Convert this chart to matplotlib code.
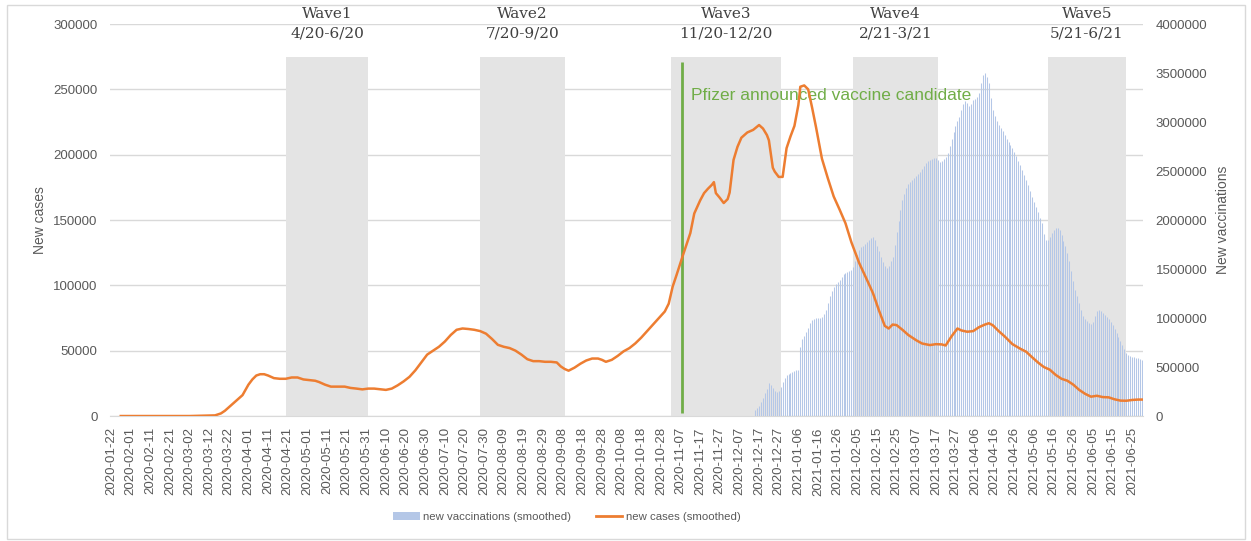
import matplotlib
matplotlib.use('Agg')
import matplotlib.pyplot as plt
import matplotlib.transforms as mtransforms
from matplotlib.patches import Patch, Rectangle
from matplotlib.lines import Line2D
from matplotlib.ticker import StrMethodFormatter
import pandas as pd

# axis range (category dates)
START = pd.Timestamp('2020-01-22')
END = pd.Timestamp('2021-06-30')

# new cases (smoothed): days since START and values in thousands
case_days = [5, 20, 40, 53, 56, 58, 61, 64, 67, 70, 72, 74, 76, 78, 80, 83, 86, 89, 92, 95,
             98, 101, 104, 106, 109, 112, 116, 119, 122, 125, 128, 131, 134, 137, 140, 143, 146, 149, 152, 155,
             158, 161, 164, 167, 170, 173, 176, 179, 182, 185, 188, 191, 194, 197, 200, 203, 206, 209, 212, 215,
             218, 221, 224, 227, 229, 231, 233, 236, 239, 242, 245, 248, 250, 252, 255, 258, 261, 264, 267, 270,
             273, 276, 279, 282, 284, 286, 288, 291, 293, 295, 297, 300, 302, 304, 306, 307, 308, 310, 312, 314,
             315, 317, 319, 321, 324, 327, 330, 332, 334, 335, 337, 338, 340, 342, 344, 346, 348, 350, 351, 353,
             355, 357, 359, 362, 365, 368, 371, 374, 377, 381, 385, 388, 391, 394, 396, 398, 400, 403, 406, 410,
             413, 417, 420, 423, 425, 428, 431, 433, 436, 439, 442, 445, 447, 449, 452, 455, 459, 463, 466, 469,
             472, 475, 478, 481, 484, 487, 490, 493, 496, 499, 502, 505, 508, 511, 514, 517, 520, 523, 525]
case_values = [0, 0, 0, 0.5, 2, 4, 8, 12, 16, 24, 28, 31, 32, 32, 31, 29, 28.5, 28.5, 29.5, 29.5,
               28, 27.5, 27, 26, 24, 22.5, 22.5, 22.5, 21.5, 21, 20.4, 21, 21, 20.5, 20, 21, 23.5, 26.5, 30, 35,
               41, 47, 50, 53, 57, 62, 66, 67, 66.6, 66, 65, 63, 59, 54.5, 53, 52, 50, 47, 43.5, 42,
               42, 41.5, 41.5, 41, 38, 36, 34.7, 37, 40, 42.5, 44, 44, 43, 41.5, 43, 46, 49.5, 52, 55.6, 60,
               65, 70, 75, 80, 86, 99, 108, 122, 131, 140, 155, 165, 170.6, 174, 177, 179, 170.6, 167, 163, 166,
               171, 196, 206, 213, 217, 219, 222.7, 220, 215, 211, 190, 187, 183, 183, 205, 214, 222, 238, 252, 253,
               250, 236, 221, 197, 182, 168, 158, 147.5, 133, 117, 104, 94, 81, 69, 67, 70, 69.6, 66, 62, 58,
               55.5, 54.3, 55, 54.8, 54, 61, 67, 65.5, 64.5, 65, 68, 70, 71, 69.5, 65, 61, 55, 51.5, 49.2, 45,
               41, 37.5, 35.5, 31.5, 28.5, 27, 24, 20, 17, 14.8, 15.5, 14.5, 14.3, 12.8, 11.8, 11.7, 12.3, 12.6, 12.6]

# new vaccinations (smoothed): daily from 2020-12-15, in thousands
vacc_first_day = '2020-12-15'
vacc_values = [60, 80, 100, 140, 180, 230, 280, 340, 320, 290, 260, 250, 260, 300, 350, 390,
               420, 430, 440, 450, 460, 470, 470, 700, 790, 820, 860, 900, 950, 980, 990, 1000,
               1000, 1000, 1010, 1040, 1080, 1150, 1220, 1280, 1320, 1350, 1370, 1390, 1420, 1450, 1460, 1470,
               1480, 1490, 1520, 1580, 1640, 1690, 1720, 1740, 1760, 1780, 1800, 1820, 1830, 1800, 1740, 1680,
               1620, 1570, 1530, 1510, 1530, 1580, 1620, 1750, 1880, 1990, 2100, 2200, 2270, 2330, 2370, 2390,
               2410, 2430, 2450, 2470, 2490, 2520, 2550, 2580, 2600, 2610, 2620, 2630, 2630, 2610, 2590, 2600,
               2620, 2640, 2680, 2760, 2830, 2900, 2960, 3010, 3050, 3120, 3180, 3210, 3190, 3160, 3180, 3220,
               3240, 3260, 3300, 3400, 3480, 3500, 3460, 3400, 3250, 3120, 3060, 3010, 2970, 2940, 2910, 2870,
               2830, 2800, 2770, 2730, 2690, 2650, 2600, 2560, 2510, 2460, 2410, 2360, 2300, 2240, 2180, 2130,
               2080, 2020, 1970, 1860, 1800, 1800, 1830, 1870, 1900, 1920, 1920, 1900, 1850, 1790, 1730, 1660,
               1580, 1480, 1380, 1290, 1220, 1150, 1080, 1020, 990, 970, 950, 940, 960, 1020, 1070, 1080,
               1070, 1050, 1030, 1010, 990, 960, 930, 890, 850, 810, 770, 720, 680, 640, 620, 610,
               600, 600, 595, 590, 585, 575]

# waves (shaded columns)
wave_names = ['Wave1', 'Wave2', 'Wave3', 'Wave4', 'Wave5']
wave_periods = ['4/20-6/20', '7/20-9/20', '11/20-12/20', '2/21-3/21', '5/21-6/21']
wave_starts = ['2020-04-20', '2020-07-28', '2020-11-02', '2021-02-03', '2021-05-13']
wave_ends = ['2020-06-01', '2020-09-09', '2020-12-28', '2021-03-18', '2021-06-22']
wave_height = 275000

pfizer_date = '2020-11-08'
pfizer_label = 'Pfizer announced vaccine candidate'

GREY = '#595959'
ORANGE = '#ED7D31'
BLUE = '#B4C7E7'
GREEN = '#70AD47'

cases = pd.Series([v * 1000 for v in case_values],
                  index=START + pd.to_timedelta(case_days, unit='D'))
vacc = pd.Series([v * 1000 for v in vacc_values],
                 index=pd.date_range(vacc_first_day, periods=len(vacc_values), freq='D'))

fig = plt.figure(figsize=(12.51, 5.41), dpi=100)
fig.subplots_adjust(left=0.0879, right=0.9137, bottom=0.231, top=0.9556)
ax = fig.add_subplot(111)
ax2 = ax.twinx()

ax.set_ylim(0, 300000)
ax2.set_ylim(0, 4000000)
ax.set_xlim(START - pd.Timedelta(hours=12), END + pd.Timedelta(hours=12))

# grid + wave columns on the left axis (bottom layer)
ax.set_axisbelow(True)
ax.yaxis.grid(True, color='#D9D9D9', lw=1.0)
for s, e in zip(wave_starts, wave_ends):
    ax.axvspan(pd.Timestamp(s), pd.Timestamp(e), ymin=0, ymax=wave_height / 300000,
               color='#E4E4E4', lw=0, zorder=1)

blend = mtransforms.blended_transform_factory(ax.transData, ax.transAxes)
for name, per, s, e in zip(wave_names, wave_periods, wave_starts, wave_ends):
    mid = pd.Timestamp(s) + (pd.Timestamp(e) - pd.Timestamp(s)) / 2
    ax.text(mid, 1.0, name + '\n' + per, transform=blend, ha='center', va='center',
            family='DejaVu Serif', fontsize=11, color='#404040', linespacing=1.5)

# vaccinations on the right axis, thin daily columns
ax2.vlines(vacc.index, 0, vacc.values, color=BLUE, lw=0.75, zorder=2)

# pfizer marker and cases line drawn above the bars (left-axis units)
ax2.vlines(pd.Timestamp(pfizer_date), 2500, 271000, color=GREEN, lw=2,
           transform=ax.transData, zorder=3)
ax2.text(pd.Timestamp(pfizer_date) + pd.Timedelta(days=4.5), 245000, pfizer_label,
         transform=ax.transData, color=GREEN, fontsize=12.5, family='Liberation Sans',
         va='center', ha='left', zorder=3)
ax2.plot(cases.index, cases.values, color=ORANGE, lw=1.8, transform=ax.transData, zorder=4)

# axes styling
ax.set_yticks(range(0, 300001, 50000))
ax2.set_yticks(range(0, 4000001, 500000))
ax.yaxis.set_major_formatter(StrMethodFormatter('{x:.0f}'))
ax2.yaxis.set_major_formatter(StrMethodFormatter('{x:.0f}'))
ticks = pd.date_range(START, END, freq='10D')
ax.set_xticks(ticks)
ax.set_xticklabels([t.strftime('%Y-%m-%d') for t in ticks], rotation=90)

for a in (ax, ax2):
    for sp in a.spines.values():
        sp.set_visible(False)
    a.tick_params(axis='y', length=0, pad=9, labelsize=9.5, labelcolor=GREY)
    for lab in a.get_yticklabels():
        lab.set_family('Liberation Sans')
ax.spines['bottom'].set_visible(True)
ax.spines['bottom'].set_color('#D9D9D9')
ax.tick_params(axis='x', length=0, pad=8, labelsize=9.5, labelcolor=GREY)
for lab in ax.get_xticklabels():
    lab.set_family('Liberation Sans')

ax.set_ylabel('New cases', fontsize=10, color=GREY, family='Liberation Sans')
ax.yaxis.set_label_coords(-0.061, 0.5)
ax2.set_ylabel('New vaccinations', fontsize=10, color=GREY, family='Liberation Sans')
ax2.yaxis.set_label_coords(1.0707, 0.5)

handles = [Patch(facecolor=BLUE, edgecolor='none'), Line2D([], [], color=ORANGE, lw=2)]
fig.legend(handles, ['new vaccinations (smoothed)', 'new cases (smoothed)'],
           loc='center', bbox_to_anchor=(567 / 1251, 1 - 517 / 541), ncol=2, frameon=False,
           prop={'family': 'Liberation Sans', 'size': 8.2}, labelcolor=GREY,
           handlelength=2.3, handleheight=0.6, columnspacing=2.2, handletextpad=0.3)

# chart border
fig.add_artist(Rectangle((7 / 1251, 2 / 541), 1238 / 1251, 534 / 541, transform=fig.transFigure,
                         fill=False, ec='#D9D9D9', lw=1.0))

fig.savefig('out.png', dpi=100)
